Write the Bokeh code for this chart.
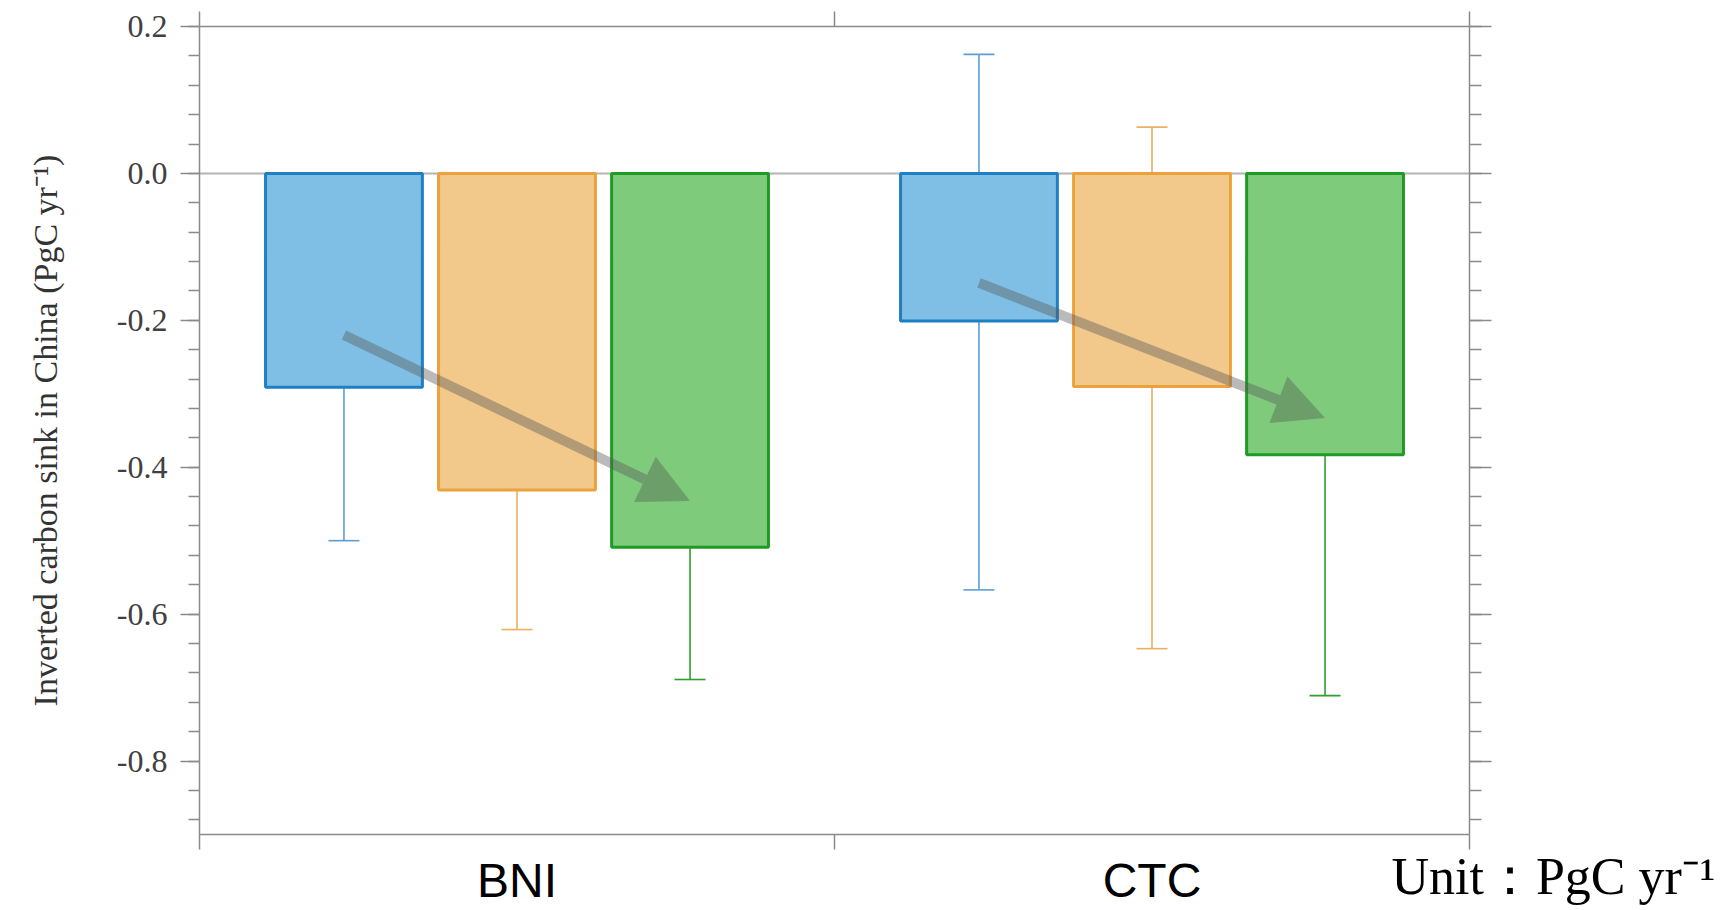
from bokeh.plotting import figure
from bokeh.models import (Range1d, LinearAxis, FixedTicker, SingleIntervalTicker,
                          PrintfTickFormatter, Whisker, TeeHead, Arrow, NormalHead,
                          Span, Title, ColumnDataSource)
from bokeh.embed import file_html
from bokeh.resources import INLINE

# ---------------- data ----------------
categories = ["BNI", "CTC"]
blue_values = [-0.291, -0.201]
orange_values = [-0.431, -0.290]
green_values = [-0.509, -0.383]
blue_upper = [-0.087, 0.162]
blue_lower = [-0.500, -0.567]
orange_upper = [-0.245, 0.063]
orange_lower = [-0.621, -0.647]
green_upper = [-0.335, -0.062]
green_lower = [-0.689, -0.711]
arrow_start = [-0.220, -0.149]
arrow_end = [-0.446, -0.333]
unit_text = "Unit：PgC yr⁻¹"
y_label = "Inverted carbon sink in China (PgC yr⁻¹)"

# ---------------- styles ----------------
series = [
    (blue_values, blue_upper, blue_lower, "#7fbfe5", "#1f7fc4", "#5a9fd4", -0.2725),
    (orange_values, orange_upper, orange_lower, "#f2c98a", "#eba23d", "#eab060", 0.0),
    (green_values, green_upper, green_lower, "#7fcb7c", "#1f9a25", "#2e9e2e", 0.2725),
]
bar_width = 0.247
axis_gray = "#8a8a8a"

p = figure(width=1724, height=910, x_range=Range1d(0, 2), y_range=Range1d(-0.9, 0.2),
           output_backend="svg", toolbar_location=None,
           x_axis_location=None, y_axis_location=None,
           min_border_left=199, min_border_right=255, min_border_top=26, min_border_bottom=76)
p.grid.visible = False
p.outline_line_color = None
p.background_fill_color = "white"

p.add_layout(Span(location=0, dimension="width", line_color="#b4b4b4", line_width=2,
                  level="underlay"))

cat_x = [i + 0.5 for i in range(len(categories))]
blue_x = None
green_x = None
for vals, up, lo, fill, edge, ecol, off in series:
    xs = [c + off for c in cat_x]
    if off < 0:
        blue_x = xs
    if off > 0:
        green_x = xs
    src = ColumnDataSource(dict(x=xs, top=[0.0] * len(vals), bottom=vals, upper=up, lower=lo))
    p.vbar(x="x", width=bar_width, top="top", bottom="bottom", source=src,
           fill_color=fill, line_color=edge, line_width=3)
    p.add_layout(Whisker(base="x", upper="upper", lower="lower", source=src,
                         line_color=ecol, line_width=1.6,
                         upper_head=TeeHead(size=31, line_color=ecol, line_width=1.6),
                         lower_head=TeeHead(size=31, line_color=ecol, line_width=1.6)))

for xs0, ys0, xs1, ys1 in zip(blue_x, arrow_start, green_x, arrow_end):
    p.add_layout(Arrow(x_start=xs0, y_start=ys0, x_end=xs1, y_end=ys1,
                       line_color="#5a5a5a", line_alpha=0.42, line_width=10,
                       end=NormalHead(size=50, fill_color="#4a4a4a", fill_alpha=0.35,
                                      line_color=None)))

# ---------------- axes ----------------
left = LinearAxis(ticker=SingleIntervalTicker(interval=0.2, num_minor_ticks=5),
                  formatter=PrintfTickFormatter(format="%.1f"),
                  axis_label=y_label,
                  axis_label_text_font="Liberation Serif", axis_label_text_font_style="normal",
                  axis_label_text_font_size="34px", axis_label_text_color="#333333",
                  axis_label_standoff=50,
                  major_label_text_font="Liberation Serif", major_label_text_font_size="32px",
                  major_label_text_color="#404040", major_label_standoff=13,
                  axis_line_color=axis_gray, axis_line_width=1.5,
                  major_tick_line_color=axis_gray, major_tick_line_width=1.5,
                  minor_tick_line_color=axis_gray, minor_tick_line_width=1.5,
                  major_tick_in=0, major_tick_out=19, minor_tick_in=0, minor_tick_out=11)
p.add_layout(left, "left")

right = LinearAxis(ticker=SingleIntervalTicker(interval=0.2, num_minor_ticks=5),
                   major_label_text_font_size="0px", major_label_text_alpha=0,
                   major_label_standoff=0,
                   axis_line_color=axis_gray, axis_line_width=1.5,
                   major_tick_line_color=axis_gray, major_tick_line_width=1.5,
                   minor_tick_line_color=axis_gray, minor_tick_line_width=1.5,
                   major_tick_in=0, major_tick_out=22, minor_tick_in=0, minor_tick_out=12)
p.add_layout(right, "right")

top = LinearAxis(ticker=FixedTicker(ticks=[0, 1, 2]),
                 major_label_text_font_size="0px", major_label_text_alpha=0,
                 major_label_standoff=0,
                 axis_line_color=axis_gray, axis_line_width=1.5,
                 major_tick_line_color=axis_gray, major_tick_line_width=1.5,
                 major_tick_in=0, major_tick_out=15,
                 minor_tick_line_color=None)
p.add_layout(top, "above")

bottom = LinearAxis(ticker=FixedTicker(ticks=cat_x, minor_ticks=[0, 1, 2]),
                    major_label_overrides={x: c for x, c in zip(cat_x, categories)},
                    major_label_text_font="Liberation Sans", major_label_text_font_size="48px",
                    major_label_text_color="black", major_label_standoff=4,
                    axis_line_color=axis_gray, axis_line_width=1.5,
                    major_tick_line_color=None, major_tick_in=0, major_tick_out=14,
                    minor_tick_line_color=axis_gray, minor_tick_line_width=1.5,
                    minor_tick_in=0, minor_tick_out=15)
p.add_layout(bottom, "below")

# unit note placed in the bottom panel, beside the category labels
p.add_layout(Title(text=unit_text, align="left", offset=1192, standoff=-124,
                   vertical_align="top", text_font="Liberation Serif",
                   text_font_size="52px", text_font_style="normal", text_color="black"),
             "below")

open("out.html", "w").write(file_html(p, INLINE))
